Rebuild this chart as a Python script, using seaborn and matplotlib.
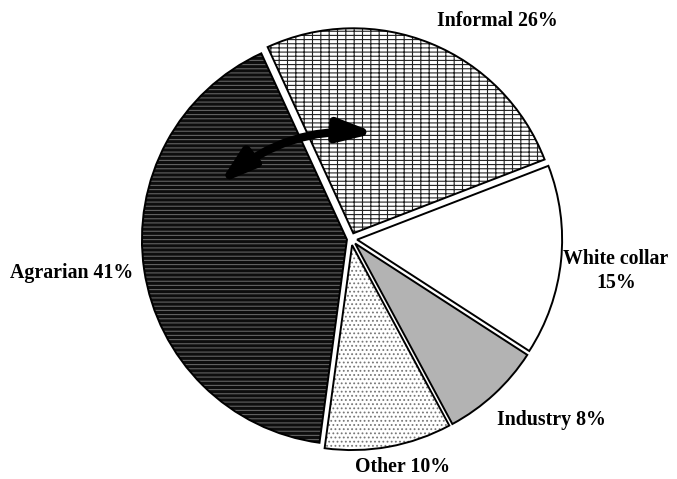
import matplotlib
matplotlib.use('Agg')
import matplotlib.pyplot as plt
from matplotlib.patches import Wedge
import seaborn as sns

sns.set_theme(style='white')
plt.rcParams['font.family'] = ['Liberation Serif', 'DejaVu Serif']
plt.rcParams['hatch.linewidth'] = 0.8

# sectors, clockwise starting from the Informal slice
sectors = ['Informal', 'White collar', 'Industry', 'Other', 'Agrarian']
shares = [26, 15, 8, 10, 41]
label_text = ['Informal 26%', 'White collar\n15%', 'Industry 8%', 'Other 10%', 'Agrarian 41%']

face = ['white', 'white', '#b3b3b3', 'white', '#0d0d0d']
hatch_col = ['#222222', 'white', '#b3b3b3', '#777777', '#626262']
hatches = ['----||', None, None, '....', '----']

fig = plt.figure(figsize=(6.77, 4.79), dpi=100)
ax = fig.add_axes([0, 0, 1, 1])

wedges, _ = ax.pie(shares, startangle=114.7, counterclock=False,
                   colors=face, explode=[0.03, 0.03, 0.03, 0.03, 0.02],
                   radius=1.0, wedgeprops=dict(linewidth=0))
for w, hc, h in zip(wedges, hatch_col, hatches):
    w.set_edgecolor(hc)
    if h:
        w.set_hatch(h)
    # black outline drawn on top
    ax.add_patch(Wedge(w.center, w.r, w.theta1, w.theta2, fill=False,
                       edgecolor='black', linewidth=1.4, zorder=3))

# pie centre at pixel (351, 239), 205 px per unit
scale = 205
ax.set_aspect('auto')
ax.set_xlim(-351 / scale, (677 - 351) / scale)
ax.set_ylim(-(479 - 239) / scale, 239 / scale)
ax.axis('off')

# label positions in figure pixels (x, y from top)
label_pos = [(497, 21), (616, 271), (551, 420), (403, 467), (72, 273)]
for txt, (px, py) in zip(label_text, label_pos):
    fig.text(px / 677, 1 - py / 479, txt, ha='center', va='center',
             fontsize=14.3, fontweight='bold', linespacing=1.3, color='black')

# curved double arrow between Agrarian and Informal
ax.annotate('', xy=((376 - 351) / scale, (239 - 133) / scale),
            xytext=((219 - 351) / scale, (239 - 184) / scale),
            arrowprops=dict(arrowstyle='<|-|>,head_length=1.05,head_width=0.33',
                            mutation_scale=20,
                            connectionstyle='arc3,rad=-0.2',
                            color='black', lw=6, shrinkA=0, shrinkB=0),
            zorder=5)

fig.savefig('out.png', dpi=100)
